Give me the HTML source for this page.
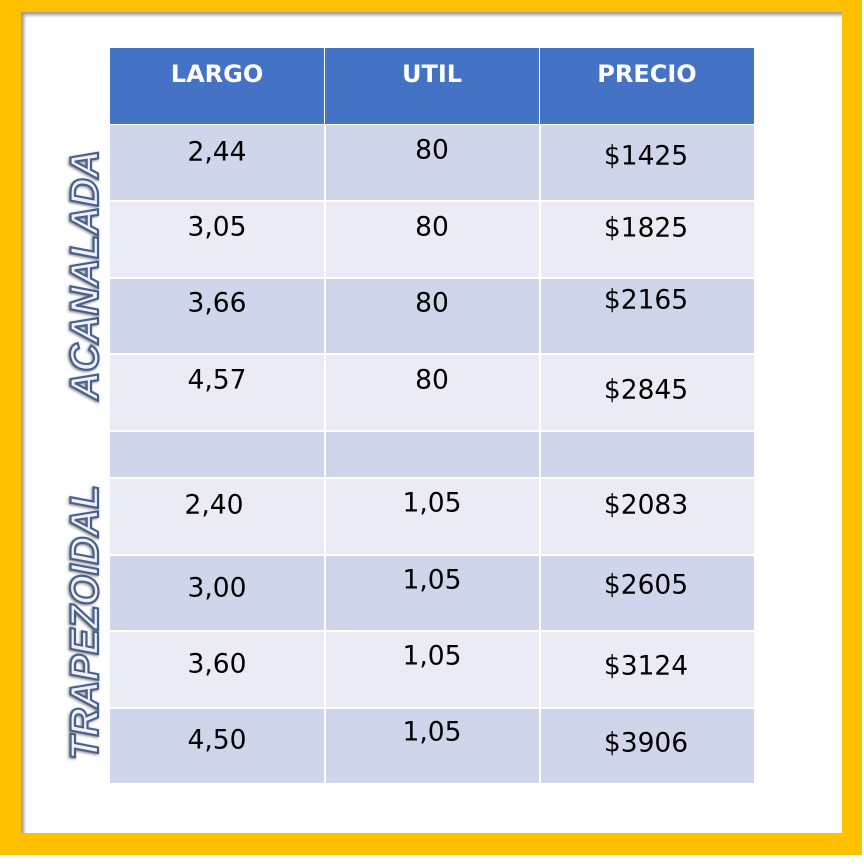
<!DOCTYPE html>
<html><head><meta charset="utf-8"><style>
body{margin:0;width:864px;height:864px;background:#fff;position:relative;overflow:hidden;font-family:"DejaVu Sans","Liberation Sans",sans-serif}
.frame{position:absolute;left:0;top:0;width:862px;height:855px;background:#FFC000}
.inner{position:absolute;left:21px;top:12px;width:821px;height:821px;background:#fff;box-shadow:3px 3px 3px #999 inset}
.c{position:absolute;box-sizing:border-box}
.t{position:absolute;font-size:26.5px;color:#000;transform:translate(-50%,-50%);white-space:nowrap}
.h{position:absolute;font-size:24px;color:#fff;font-weight:bold;transform:translate(-50%,-50%);font-family:"DejaVu Sans",sans-serif}
</style></head><body>
<div class="frame"></div><div class="inner"></div>
<div class="c" style="left:110px;top:48px;width:644px;height:76px;background:#4472C4"></div>
<div class="c" style="left:324px;top:48px;width:1px;height:76px;background:#fff"></div>
<div class="c" style="left:539px;top:48px;width:1px;height:76px;background:#fff"></div>
<div class="h" style="left:217px;top:74px">LARGO</div>
<div class="h" style="left:432px;top:74px">UTIL</div>
<div class="h" style="left:647px;top:74px">PRECIO</div>

<div class="c" style="left:110px;top:125px;width:644px;height:75px;background:#CFD5EA"></div>
<div class="c" style="left:110px;top:202px;width:644px;height:75px;background:#E9EBF5"></div>
<div class="c" style="left:110px;top:279px;width:644px;height:74px;background:#CFD5EA"></div>
<div class="c" style="left:110px;top:355px;width:644px;height:75px;background:#E9EBF5"></div>
<div class="c" style="left:110px;top:432px;width:644px;height:45px;background:#CFD5EA"></div>
<div class="c" style="left:110px;top:479px;width:644px;height:75px;background:#E9EBF5"></div>
<div class="c" style="left:110px;top:556px;width:644px;height:74px;background:#CFD5EA"></div>
<div class="c" style="left:110px;top:632px;width:644px;height:75px;background:#E9EBF5"></div>
<div class="c" style="left:110px;top:709px;width:644px;height:74px;background:#CFD5EA"></div>
<div class="c" style="left:324px;top:124px;width:2px;height:659px;background:#fff"></div>
<div class="c" style="left:539px;top:124px;width:2px;height:659px;background:#fff"></div>

<div class="t" style="left:217px;top:152px">2,44</div><div class="t" style="left:432px;top:150px">80</div><div class="t" style="left:646px;top:156px">$1425</div>
<div class="t" style="left:217px;top:227px">3,05</div><div class="t" style="left:432px;top:227px">80</div><div class="t" style="left:646px;top:228px">$1825</div>
<div class="t" style="left:217px;top:303px">3,66</div><div class="t" style="left:432px;top:303px">80</div><div class="t" style="left:646px;top:300px">$2165</div>
<div class="t" style="left:217px;top:380px">4,57</div><div class="t" style="left:432px;top:380px">80</div><div class="t" style="left:646px;top:390px">$2845</div>
<div class="t" style="left:214px;top:505px">2,40</div><div class="t" style="left:432px;top:503px">1,05</div><div class="t" style="left:646px;top:505px">$2083</div>
<div class="t" style="left:217px;top:588px">3,00</div><div class="t" style="left:432px;top:580px">1,05</div><div class="t" style="left:646px;top:585px">$2605</div>
<div class="t" style="left:217px;top:664px">3,60</div><div class="t" style="left:432px;top:656px">1,05</div><div class="t" style="left:646px;top:666px">$3124</div>
<div class="t" style="left:217px;top:740px">4,50</div><div class="t" style="left:432px;top:732px">1,05</div><div class="t" style="left:646px;top:743px">$3906</div>

<svg style="position:absolute;left:0;top:0" width="864" height="864">
<defs><filter id="s"><feDropShadow dx="-1" dy="1" stdDeviation="1.2" flood-color="#888"/></filter></defs>
<g font-family="Liberation Sans, sans-serif" font-weight="bold" font-style="italic" font-size="40" fill="#EEF1F8" stroke="#4A5F8C" stroke-width="2.2" filter="url(#s)">
<text transform="translate(98,400) rotate(-90)" textLength="250" lengthAdjust="spacingAndGlyphs">ACANALADA</text>
<text transform="translate(98,760) rotate(-90)" textLength="275" lengthAdjust="spacingAndGlyphs">TRAPEZOIDAL</text>
</g></svg>
</body></html>
